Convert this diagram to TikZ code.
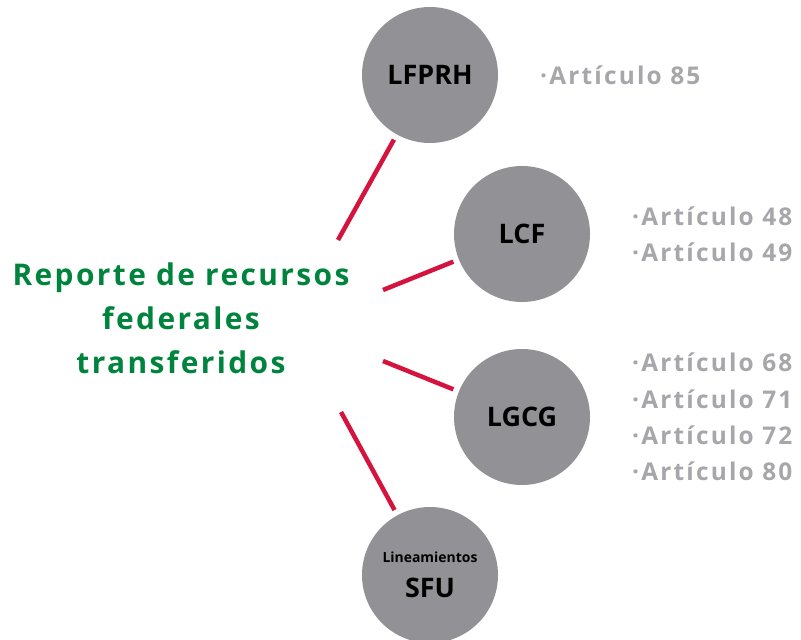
\documentclass[tikz,border=0pt]{standalone}
\usepackage{fontspec}
\setmainfont{Open Sans}
\newfontfamily\spacedfont[LetterSpace=8]{Open Sans}
\newfontfamily\artfont[LetterSpace=9]{Open Sans}
\usetikzlibrary{positioning}
\definecolor{titlegreen}{RGB}{0,132,61}
\definecolor{spokered}{RGB}{212,20,62}
\definecolor{lawgray}{RGB}{146,145,150}
\definecolor{artgray}{RGB}{167,166,171}

\begin{document}
\begin{tikzpicture}[
        x=1bp, y=-1bp,
        law/.style = {
            circle, fill=lawgray, inner sep=0pt,
            minimum size=136bp, outer sep=6bp, align=center,
            font=\fontsize{27}{35}\selectfont\bfseries},
        arts/.style = {
            align=left, text=artgray, inner sep=0pt,
            font=\artfont\fontsize{24.5}{36.5}\selectfont\bfseries},
        spoke/.style = {draw=spokered, line width=4.5bp},
]
        \useasboundingbox (0,0) rectangle (801,640);
        \node[align=center, text=titlegreen,
            font=\spacedfont\fontsize{30}{44}\selectfont\bfseries] (title) at (181,318)
            {Reporte de recursos\\federales\\transferidos};
        \node[law] (lfprh) at (430,75) {LFPRH};
        \node[law] (lcf) at (522,234) {LCF};
        \node[law] (lgcg) at (522,417) {LGCG};
        \node[law] (sfu) at (430,575) {{\fontsize{14}{14}\selectfont Lineamientos}\\SFU};
        \node[arts] (a85) [right=36bp of lfprh] {·Artículo 85};
        \node[arts] (a48) [right=36bp of lcf] {·Artículo 48\\·Artículo 49};
        \node[arts] (a68) [right=36bp of lgcg] {·Artículo 68\\·Artículo 71\\·Artículo 72\\·Artículo 80};
        \coordinate (s1) at (338,240);
        \coordinate (s2) at (383,290);
        \coordinate (s3) at (383,361);
        \coordinate (s4) at (341,412);
        \draw[spoke] (s1) -- (lfprh);
        \draw[spoke] (s2) -- (lcf);
        \draw[spoke] (s3) -- (lgcg);
        \draw[spoke] (s4) -- (sfu);
\end{tikzpicture}
\end{document}
